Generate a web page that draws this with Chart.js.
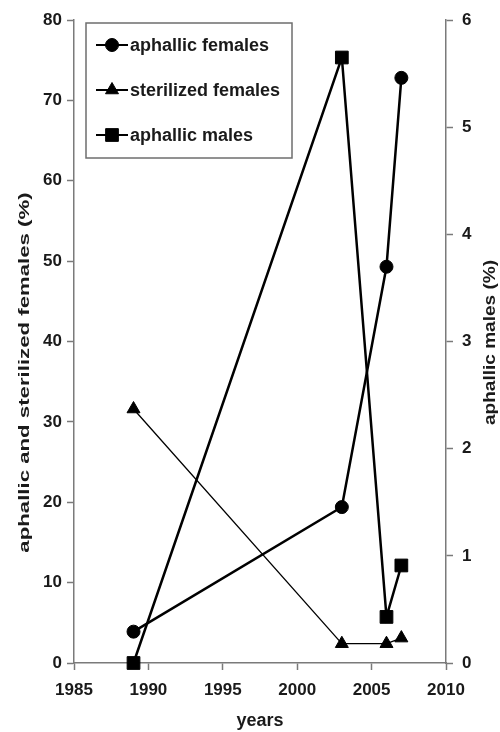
<!DOCTYPE html>
<html>
<head>
<meta charset="utf-8">
<script src="https://cdn.jsdelivr.net/npm/chart.js@4.4.1/dist/chart.umd.min.js"></script>
<style>
html,body{margin:0;padding:0;background:#fff;}
#wrap{width:500px;height:732px;position:relative;}
</style>
</head>
<body>
<div id="wrap"><canvas id="c" width="500" height="732"></canvas></div>
<script>
// ---- data ----
const seriesNames = ['aphallic females', 'sterilized females', 'aphallic males'];
const years = [1989, 2003, 2006, 2007];
const aphallicFemales = [3.9, 19.4, 49.3, 72.8];
const sterilizedFemales = [31.6, 2.4, 2.4, 3.1];
const aphallicMales = [0, 5.65, 0.43, 0.91];
const xTicks = [1985, 1990, 1995, 2000, 2005, 2010];
const yLeftTicks = [0, 10, 20, 30, 40, 50, 60, 70, 80];
const yRightTicks = [0, 1, 2, 3, 4, 5, 6];
const xTitle = 'years';
const yLeftTitle = 'aphallic and sterilized females (%)';
const yRightTitle = 'aphallic males (%)';

// ---- style ----
const FONT = "'Liberation Sans', Arial, Helvetica, sans-serif";
const AXIS = '#7a7a7a';
const TEXT = '#1a1a1a';
Chart.defaults.font.family = FONT;

const pts = arr => years.map((x, i) => ({x: x, y: arr[i]}));

function drawMarker(ctx, style, x, y, r) {
  ctx.save();
  ctx.fillStyle = '#000';
  ctx.strokeStyle = '#000';
  ctx.lineWidth = 1;
  ctx.beginPath();
  if (style === 'circle') {
    ctx.arc(x, y, r, 0, Math.PI * 2);
  } else if (style === 'triangle') {
    ctx.moveTo(x, y - r);
    ctx.lineTo(x + 0.866 * r, y + 0.5 * r);
    ctx.lineTo(x - 0.866 * r, y + 0.5 * r);
    ctx.closePath();
  } else {
    const s = r * Math.SQRT1_2;
    ctx.rect(x - s, y - s, 2 * s, 2 * s);
  }
  ctx.fill();
  ctx.stroke();
  ctx.restore();
}

const axisTitlePlugin = {
  id: 'axisTitles',
  afterDraw(chart) {
    const {ctx, chartArea: a} = chart;
    const draw = (text, x, y, size, sx) => {
      ctx.save();
      ctx.translate(x, y);
      ctx.rotate(-Math.PI / 2);
      ctx.scale(sx, 1);
      ctx.font = 'bold ' + size + 'px ' + FONT;
      ctx.fillStyle = TEXT;
      ctx.textAlign = 'center';
      ctx.textBaseline = 'alphabetic';
      ctx.fillText(text, 0, 0);
      ctx.restore();
    };
    const mid = (a.top + a.bottom) / 2;
    draw(chart.options.scales.y.title.text, 29, mid + 31, 15, 1.48);
    draw(chart.options.scales.y1.title.text, 495, mid + 1, 16, 1.19);
  }
};

const legendPlugin = {
  id: 'boxLegend',
  afterDraw(chart) {
    const {ctx, chartArea: a} = chart;
    const bx = a.left + 12, by = a.top + 3, bw = 206, bh = 135;
    ctx.save();
    ctx.fillStyle = '#fff';
    ctx.fillRect(bx, by, bw, bh);
    ctx.strokeStyle = '#6e6e6e';
    ctx.lineWidth = 1.5;
    ctx.strokeRect(bx, by, bw, bh);
    chart.data.datasets.forEach((ds, i) => {
      const y = by + 22 + i * 45;
      ctx.strokeStyle = '#000';
      ctx.lineWidth = 2;
      ctx.beginPath();
      ctx.moveTo(bx + 10, y);
      ctx.lineTo(bx + 42, y);
      ctx.stroke();
      drawMarker(ctx, ds.pointStyle, bx + 26, y, ds.pointRadius);
      ctx.fillStyle = TEXT;
      ctx.font = 'bold 18px ' + FONT;
      ctx.textAlign = 'left';
      ctx.textBaseline = 'middle';
      ctx.fillText(ds.label, bx + 44, y + 1);
    });
    ctx.restore();
  }
};

const tickFont = {size: 17, weight: 'bold'};
const gridOpts = {drawOnChartArea: false, drawTicks: true, tickLength: 7, tickColor: AXIS, tickWidth: 1.5};
const borderOpts = {color: AXIS, width: 1.5};

new Chart(document.getElementById('c'), {
  type: 'scatter',
  data: {
    datasets: [
      {label: seriesNames[0], data: pts(aphallicFemales), yAxisID: 'y', showLine: true,
       borderColor: '#000', backgroundColor: '#000', borderWidth: 2.5,
       pointStyle: 'circle', pointRadius: 6.5, pointHoverRadius: 6.5, pointBorderWidth: 1, clip: false},
      {label: seriesNames[1], data: pts(sterilizedFemales), yAxisID: 'y', showLine: true,
       borderColor: '#000', backgroundColor: '#000', borderWidth: 1.3,
       pointStyle: 'triangle', pointRadius: 7.5, pointHoverRadius: 7.5, pointBorderWidth: 1, clip: false},
      {label: seriesNames[2], data: pts(aphallicMales), yAxisID: 'y1', showLine: true,
       borderColor: '#000', backgroundColor: '#000', borderWidth: 2.5,
       pointStyle: 'rect', pointRadius: 9, pointHoverRadius: 9, pointBorderWidth: 1, clip: false}
    ]
  },
  options: {
    responsive: false,
    animation: false,
    events: [],
    layout: {padding: {top: 20, left: 0, right: 0, bottom: 0}},
    plugins: {legend: {display: false}, tooltip: {enabled: false}},
    scales: {
      x: {
        type: 'linear', position: 'bottom',
        min: xTicks[0], max: xTicks[xTicks.length - 1],
        afterBuildTicks: s => { s.ticks = xTicks.map(v => ({value: v})); },
        ticks: {font: tickFont, color: TEXT, padding: 10, maxRotation: 0, autoSkip: false, callback: v => String(v)},
        grid: gridOpts, border: borderOpts,
        title: {display: true, text: xTitle, font: {size: 18, weight: 'bold'}, color: TEXT, padding: {top: 0, bottom: 0}},
        afterFit: s => { s.height = 69; }
      },
      y: {
        type: 'linear', position: 'left',
        min: yLeftTicks[0], max: yLeftTicks[yLeftTicks.length - 1],
        afterBuildTicks: s => { s.ticks = yLeftTicks.map(v => ({value: v})); },
        ticks: {font: tickFont, color: TEXT, padding: 5, autoSkip: false, callback: v => String(v)},
        grid: gridOpts, border: borderOpts,
        title: {display: false, text: yLeftTitle},
        afterFit: s => { s.width = 74; }
      },
      y1: {
        type: 'linear', position: 'right',
        min: yRightTicks[0], max: yRightTicks[yRightTicks.length - 1],
        afterBuildTicks: s => { s.ticks = yRightTicks.map(v => ({value: v})); },
        ticks: {font: tickFont, color: TEXT, padding: 9, autoSkip: false, callback: v => String(v)},
        grid: gridOpts, border: borderOpts,
        title: {display: false, text: yRightTitle},
        afterFit: s => { s.width = 54; }
      }
    }
  },
  plugins: [axisTitlePlugin, legendPlugin]
});
</script>
</body>
</html>
